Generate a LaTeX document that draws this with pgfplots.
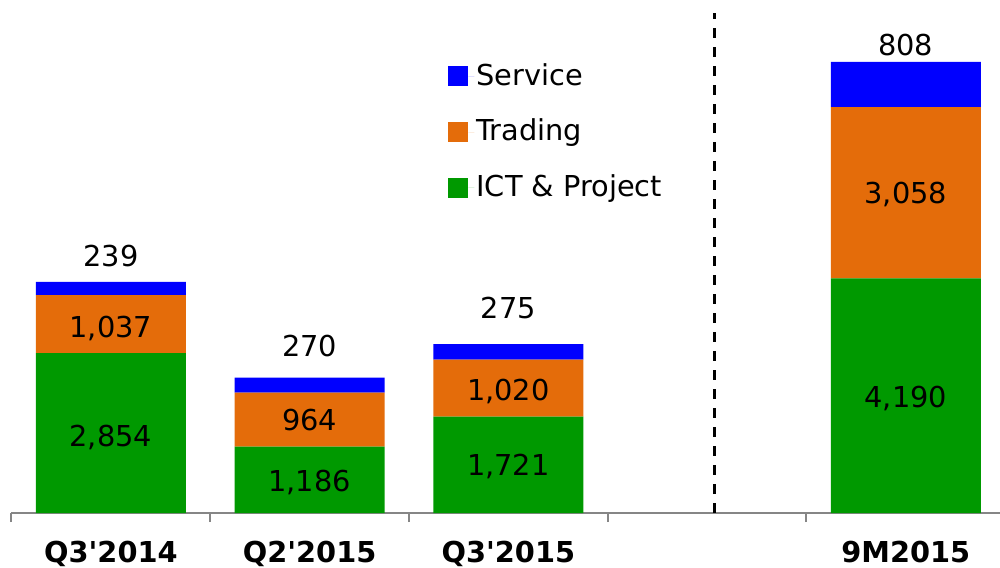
\documentclass[border=0pt]{standalone}
\usepackage{pgfplots}
\pgfplotsset{compat=1.18}
\usepackage{fontspec}
\setmainfont{DejaVu Sans}
\definecolor{cService}{RGB}{0,0,255}
\definecolor{cTrading}{RGB}{228,108,10}
\definecolor{cICT}{RGB}{0,153,0}
\definecolor{axgray}{RGB}{134,134,134}
\begin{document}
\fontsize{14.4}{17}\selectfont
\begin{tikzpicture}
\useasboundingbox (-5.75pt,-27pt) rectangle (494.25pt,256.5pt);
\pgfplotsset{
  common/.style={
    width=494.25pt, height=250pt, scale only axis,
    xmin=-0.5, xmax=4.474, ymin=0, ymax=8930,
  }
}
\begin{axis}[common,
  ybar stacked, bar width=75pt,
  axis x line*=bottom, axis y line=none,
  x axis line style={axgray, line width=1pt, -},
  xtick={0,1,2,4}, xticklabels={Q3\textquotesingle2014,Q2\textquotesingle2015,Q3\textquotesingle2015,9M2015},
  major tick length=0pt, tick align=outside,
  extra x ticks={-0.5,0.5,1.5,2.5,3.5},
  extra x tick labels={},
  extra x tick style={major tick length=4.5pt, tick style={axgray, line width=1pt}},
  xticklabel style={font=\fontsize{14.4}{17}\selectfont\bfseries, yshift=-9pt},
  legend style={at={(0.4416,0.904)}, anchor=north west, draw=none, fill=none,
    inner sep=0pt, row sep=12.75pt, font=\fontsize{14.4}{17}\selectfont,
    nodes={inner sep=1pt}, cells={anchor=west}},
  reverse legend,
  legend image code/.code={\fill[#1] (0pt,-5pt) rectangle (10pt,5pt); \path (10pt,0pt) -- (13pt,0pt);},
]
\addplot[fill=cICT, draw=none] coordinates {(0,2854) (1,1186) (2,1721) (4,4190)};
\addplot[fill=cTrading, draw=none] coordinates {(0,1037) (1,964) (2,1020) (4,3058)};
\addplot[fill=cService, draw=none] coordinates {(0,239) (1,270) (2,275) (4,808)};
\legend{ICT \& Project, Trading, Service}
\end{axis}
\begin{axis}[common, hide axis, clip=false]
\addplot[black, line width=1.5pt, dash pattern=on 5pt off 4.5pt] coordinates {(3.035,0) (3.035,8930)};
\addplot[only marks, mark=*, mark size=0pt, mark options={draw=none, fill=none},
  point meta=explicit symbolic, nodes near coords,
  nodes near coords style={anchor=base, yshift=-5.25pt, text=black, inner sep=0pt, font=\fontsize{14.4}{17}\selectfont}]
  coordinates {
  (0,1380) [2,854] (1,570) [1,186] (2,850) [1,721] (4,2080) [4,190]
  (0,3330) [1,037] (1,1668) [964] (2,2200) [1,020] (4,5719) [3,058]
  (0,4589) [239] (1,2982) [270] (2,3661) [275] (4,8357) [808]
  };
\end{axis}
\end{tikzpicture}
\end{document}
